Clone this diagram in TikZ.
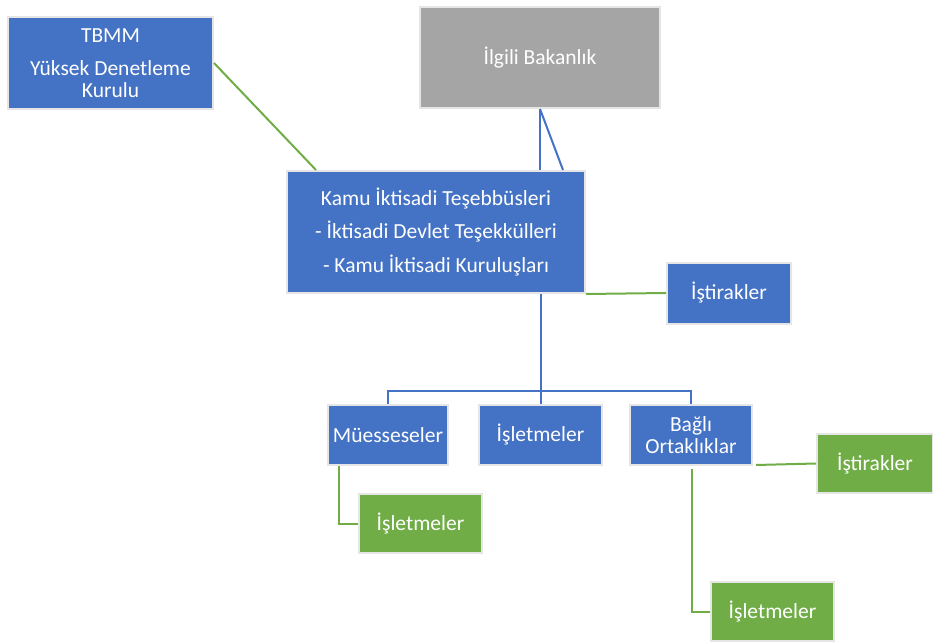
\documentclass[tikz,border=0pt]{standalone}
\usepackage{fontspec}
\setmainfont{Carlito}
\usetikzlibrary{calc}
\definecolor{kutumavi}{HTML}{4472C4}
\definecolor{kutugri}{HTML}{A5A5A5}
\definecolor{kutuyesil}{HTML}{70AD47}
\begin{document}
\begin{tikzpicture}[x=1pt, y=-1pt,
    kutu/.style={draw=black!10, line width=2pt, text=white, align=center, inner sep=0pt,
                 font=\fontsize{21.5}{22.5}\selectfont},
    mavi/.style={kutu, fill=kutumavi},
    gri/.style={kutu, fill=kutugri},
    yesil/.style={kutu, fill=kutuyesil},
    maviçizgi/.style={draw=kutumavi, line width=2pt},
    yesilçizgi/.style={draw=kutuyesil, line width=2pt}]
    \useasboundingbox (0, 0) rectangle (933, 644);

    \node[mavi, minimum width=205pt, minimum height=92pt] (tbmm) at (110.5, 63) {TBMM\\[10.5pt] Yüksek Denetleme\\ Kurulu};
    \node[gri, minimum width=240pt, minimum height=101pt] (bakanlik) at (540, 57.5) {İlgili Bakanlık};
    \node[mavi, minimum width=298pt, minimum height=122pt] (kit) at (436, 232) {Kamu İktisadi Teşebbüsleri\\[11pt] - İktisadi Devlet Teşekkülleri\\[11pt] - Kamu İktisadi Kuruluşları};
    \node[mavi, minimum width=124pt, minimum height=61pt] (istirak) at (729, 293) {İştirakler};

    \node[mavi, minimum width=120pt, minimum height=60pt] (muessese) at (388, 435) {Müesseseler};
    \node[mavi, minimum width=123pt, minimum height=60pt] (isletme) at (540.5, 435) {İşletmeler};
    \node[mavi, minimum width=122pt, minimum height=60pt] (bagli) at (691, 435) {Bağlı\\ Ortaklıklar};

    \node[yesil, minimum width=116pt, minimum height=59pt] (istirakB) at (875, 463.5) {İştirakler};
    \node[yesil, minimum width=123pt, minimum height=59pt] (isletmeM) at (420.5, 523.5) {İşletmeler};
    \node[yesil, minimum width=123pt, minimum height=59pt] (isletmeB) at (772.5, 611.5) {İşletmeler};

    % üst bağlantılar
    \draw[yesilçizgi] (tbmm.east) -- ($(kit.north west)+(30, 0)$);
    \draw[maviçizgi] (bakanlik.south) -- (bakanlik.south |- kit.north);
    \draw[maviçizgi] (bakanlik.south) -- ($(kit.north)+(127, 0)$);
    \draw[yesilçizgi] (kit.south east) -- (istirak.west);

    % alt dallar
    \draw[maviçizgi] (isletme.north |- kit.south) -- (isletme.north);
    \draw[maviçizgi] (muessese.north) -- ++(0, -13) -| (bagli.north);
    \draw[yesilçizgi] ($(muessese.south)+(-49, 0)$) |- (isletmeM.west);
    \draw[yesilçizgi] ($(bagli.south east)+(3, -1)$) -- (istirakB.west);
    \draw[yesilçizgi] ($(bagli.south)+(1, 3)$) |- (isletmeB.west);
\end{tikzpicture}
\end{document}
